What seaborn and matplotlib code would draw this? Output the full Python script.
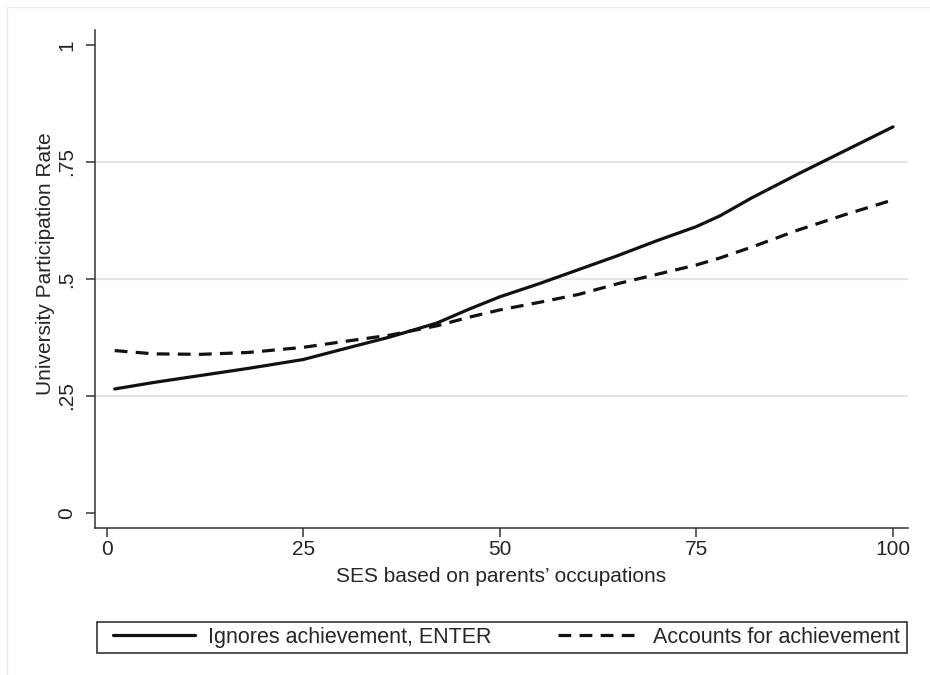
import pandas as pd
import seaborn as sns
import matplotlib.pyplot as plt
import matplotlib.lines as mlines
import matplotlib.patches as mpatches

# SES percentile (x) and predicted participation rate for each model
ses = [1, 6, 12, 18, 25, 30, 36, 42, 46, 50, 55, 60, 65, 70, 75, 78, 82, 88, 94, 100]
ignores = [0.265, 0.279, 0.294, 0.309, 0.328, 0.350, 0.376, 0.406, 0.435, 0.462,
           0.490, 0.520, 0.550, 0.582, 0.612, 0.635, 0.673, 0.725, 0.775, 0.825]
accounts = [0.347, 0.340, 0.339, 0.343, 0.354, 0.366, 0.380, 0.400, 0.418, 0.434,
            0.450, 0.467, 0.490, 0.510, 0.530, 0.545, 0.568, 0.605, 0.638, 0.669]

names = ['Ignores achievement, ENTER', 'Accounts for achievement']
ytick_vals = [0, 0.25, 0.5, 0.75, 1]
ytick_labels = ['0', '.25', '.5', '.75', '1']
xtick_vals = [0, 25, 50, 75, 100]

df = pd.DataFrame({
    'ses': ses + ses,
    'rate': ignores + accounts,
    'model': [names[0]] * len(ses) + [names[1]] * len(ses),
})

sns.set_style('white')
plt.rcParams['font.family'] = ['Liberation Sans', 'DejaVu Sans']
fs = 15

fig = plt.figure(figsize=(9.3, 6.75), dpi=100)
ax = fig.add_axes([0.1022, 0.2178, 0.8741, 0.7378])

g = sns.lineplot(data=df, x='ses', y='rate', hue='model', style='model',
                 palette=['#111111', '#111111'],
                 dashes={names[0]: '', names[1]: (4, 2.6)},
                 linewidth=2.3, legend=False, ax=ax)

g.set_xlim(-1.5, 101.9)
g.set_ylim(-0.032, 1.032)
g.set_xticks(xtick_vals)
g.set_xticklabels([str(v) for v in xtick_vals])
g.set_yticks(ytick_vals)
g.set_yticklabels(ytick_labels)

# Stata-like grid: inner y ticks only
g.yaxis.grid(True, color='#e6e6e6', linewidth=1.5)
gl = g.get_ygridlines()
gl[0].set_visible(False)
gl[-1].set_visible(False)
g.xaxis.grid(False)

for s in ['top', 'right']:
    g.spines[s].set_visible(False)
for s in ['left', 'bottom']:
    g.spines[s].set_color('#333333')
    g.spines[s].set_linewidth(1.1)

g.tick_params(axis='both', direction='out', length=6.5, width=1.1,
              color='#333333', labelsize=fs, bottom=True, left=True)
g.tick_params(axis='y', labelrotation=90, pad=7)
g.tick_params(axis='x', pad=2)
for lab in g.get_yticklabels():
    lab.set_va('center')

g.set_xlabel("SES based on parents\u2019 occupations", fontsize=fs, labelpad=6)
g.set_ylabel('University Participation Rate', fontsize=fs)
g.yaxis.set_label_coords(-0.049, 0.53)

# legend below the plot: entries spread across, framed by a separate box
handles = [mlines.Line2D([], [], color='#111111', linewidth=2.3),
           mlines.Line2D([], [], color='#111111', linewidth=2.3, dashes=(4, 2.6))]
leg = fig.legend(handles, names, loc='center', ncol=2, mode='expand',
                 bbox_to_anchor=(0.1215, 0.056, 0.8462, 0.0),
                 bbox_transform=fig.transFigure,
                 fontsize=15.5, handlelength=3.8, handletextpad=0.6,
                 borderpad=0, borderaxespad=0, frameon=False)
fig.add_artist(mpatches.Rectangle((0.1043, 0.0326), 0.871, 0.0459,
                                  transform=fig.transFigure, fill=False,
                                  edgecolor='#222222', linewidth=1.1))

# faint outer graph-region border
fig.add_artist(mlines.Line2D([0.008, 0.008], [0, 0.99], color='#ebebeb',
                             linewidth=1, transform=fig.transFigure))
fig.add_artist(mlines.Line2D([0.008, 1], [0.99, 0.99], color='#ebebeb',
                             linewidth=1, transform=fig.transFigure))

plt.savefig('out.png', dpi=100)
